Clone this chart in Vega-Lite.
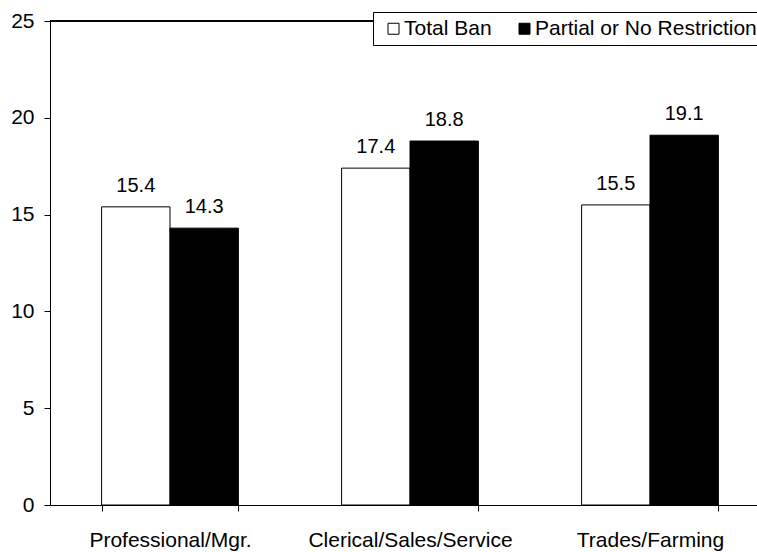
{
  "$schema": "https://vega.github.io/schema/vega-lite/v6.json",
  "width": 707,
  "height": 484,
  "autosize": {"type": "none"},
  "padding": {"left": 50, "top": 21, "right": 0, "bottom": 47},
  "background": "white",
  "usermeta": {"embedOptions": {"actions": false}},
  "config": {"view": {"stroke": null}, "font": "Liberation Sans"},
  "data": {
    "values": [
      {"category": "Professional/Mgr.", "group": "Total Ban", "value": 15.4},
      {"category": "Professional/Mgr.", "group": "Partial or No Restrictions", "value": 14.3},
      {"category": "Clerical/Sales/Service", "group": "Total Ban", "value": 17.4},
      {"category": "Clerical/Sales/Service", "group": "Partial or No Restrictions", "value": 18.8},
      {"category": "Trades/Farming", "group": "Total Ban", "value": 15.5},
      {"category": "Trades/Farming", "group": "Partial or No Restrictions", "value": 19.1}
    ]
  },
  "encoding": {
    "x": {
      "field": "category",
      "type": "nominal",
      "sort": ["Professional/Mgr.", "Clerical/Sales/Service", "Trades/Farming"],
      "scale": {"range": [0, 720], "paddingInner": 0.43, "paddingOuter": 0.215},
      "axis": {
        "title": null,
        "labelAngle": 0,
        "tickBand": "extent",
        "domainColor": "black",
        "tickColor": "black",
        "tickSize": 6,
        "labelFontSize": 21,
        "labelColor": "black",
        "labelPadding": 18,
        "labelLimit": 0,
        "labelFont": "Liberation Sans"
      }
    },
    "xOffset": {
      "field": "group",
      "type": "nominal",
      "sort": ["Total Ban", "Partial or No Restrictions"]
    },
    "y": {
      "field": "value",
      "type": "quantitative",
      "scale": {"domain": [0, 25]},
      "axis": {
        "values": [0, 5, 10, 15, 20, 25],
        "title": null,
        "grid": false,
        "domainColor": "black",
        "tickColor": "black",
        "tickSize": 6,
        "labelFontSize": 21,
        "labelColor": "black",
        "labelPadding": 10,
        "labelFont": "Liberation Sans"
      }
    }
  },
  "layer": [
    {
      "mark": {"type": "bar", "stroke": "black", "strokeWidth": 1},
      "encoding": {
        "fill": {
          "field": "group",
          "type": "nominal",
          "scale": {"domain": ["Total Ban", "Partial or No Restrictions"], "range": ["white", "black"]},
          "legend": {
            "orient": "none",
            "legendX": 323,
            "legendY": -9,
            "direction": "horizontal",
            "title": null,
            "strokeColor": "black",
            "fillColor": "white",
            "padding": 6,
            "symbolOffset": 4,
            "symbolType": "square",
            "symbolSize": 121,
            "symbolStrokeColor": "black",
            "symbolStrokeWidth": 1,
            "symbolOpacity": 1,
            "labelFontSize": 21,
            "labelFont": "Liberation Sans",
            "labelColor": "black",
            "labelOffset": 0,
            "columnPadding": 18,
            "labelLimit": 0
          }
        }
      }
    },
    {
      "mark": {"type": "text", "dy": -15, "baseline": "alphabetic", "align": "center", "fontSize": 20, "font": "Liberation Sans", "color": "black"},
      "encoding": {
        "text": {"field": "value", "type": "quantitative", "format": ".1f"}
      }
    },
    {
      "mark": {"type": "rule", "color": "black", "strokeWidth": 1},
      "encoding": {
        "x": null,
        "xOffset": null,
        "y": {"datum": 25, "type": "quantitative"}
      }
    }
  ]
}
